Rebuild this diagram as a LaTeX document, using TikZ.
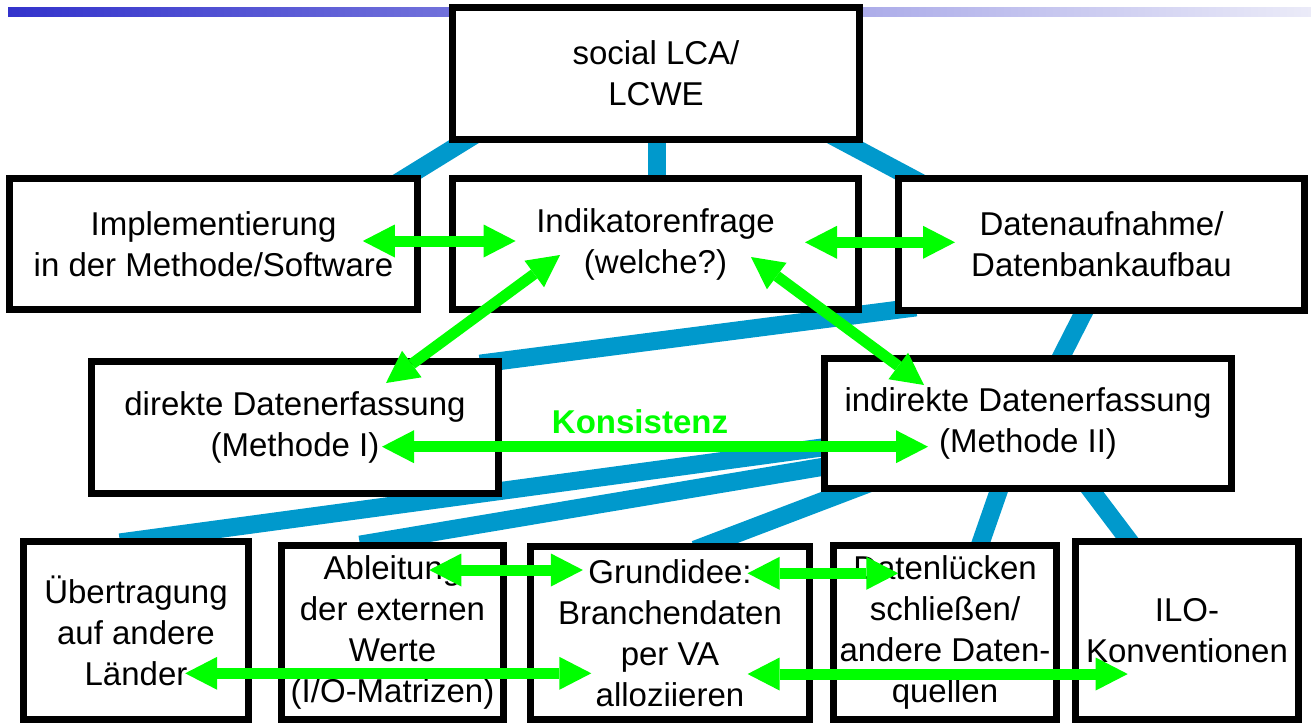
\documentclass[tikz,border=0pt]{standalone}
\usepackage{fontspec}
\setmainfont{Liberation Sans}
\usetikzlibrary{arrows.meta,backgrounds}
\definecolor{linkblue}{RGB}{0,153,204}
\definecolor{arrowgreen}{RGB}{0,255,0}
\definecolor{barleft}{RGB}{51,51,204}
\definecolor{barright}{RGB}{235,235,248}
\begin{document}
\begin{tikzpicture}[x=1pt,y=-1pt,
  box/.style={draw=black, line width=7pt, fill=white, inner sep=0pt, align=center,
    font=\fontsize{33}{41}\selectfont},
  link/.style={draw=linkblue, line width=18pt},
  garrow/.style={draw=arrowgreen, line width=11pt,
    arrows={Triangle[length=32pt,width=33pt,line width=0pt]-Triangle[length=32pt,width=33pt,line width=0pt]}},
  konsis/.style={text=arrowgreen, inner sep=0pt, font=\fontsize{33}{41}\selectfont\bfseries}]
\useasboundingbox (0,0) rectangle (1311,724);

% boxes
\node[box, minimum width=407pt, minimum height=132pt] (T) at (656,73.5) {social LCA/\\LCWE};
\node[box, minimum width=408pt, minimum height=131pt] (A) at (213.5,244) {Implementierung\\in der Methode/Software};
\node[box, minimum width=406pt, minimum height=131pt] (B) at (655.5,244) {Indikatorenfrage\\(welche?)};
\node[box, minimum width=406pt, minimum height=132pt] (C) at (1101.5,244.5) {Datenaufnahme/\\Datenbankaufbau};
\node[box, minimum width=407pt, minimum height=132pt] (D) at (295,427.5) {direkte Datenerfassung\\(Methode I)};
\node[box, minimum width=407pt, minimum height=130pt] (E) at (1028,423.5) {indirekte Datenerfassung\\(Methode II)};
\node[box, minimum width=225pt, minimum height=178pt] (F) at (136,630.5) {Übertragung\\auf andere\\Länder};
\node[box, minimum width=222pt, minimum height=174pt] (G) at (392.5,632.5) {Ableitung\\der externen\\Werte\\(I/O-Matrizen)};
\node[box, minimum width=279pt, minimum height=173pt] (H) at (670,633) {Grundidee:\\Branchendaten\\per VA\\alloziieren};
\node[box, minimum width=223pt, minimum height=174pt] (I) at (945,632.5) {Datenlücken\\schließen/\\andere Daten-\\quellen};
\node[box, minimum width=223pt, minimum height=178pt] (J) at (1187,630.5) {ILO-\\Konventionen};

\node[konsis, anchor=base] (K) at (640,433) {Konsistenz};

% background: bar and blue links
\begin{scope}[on background layer]
  \shade[left color=barleft, right color=barright] (8,7) rectangle (1311,16);
  \draw[link] ([shift={(31,-11.3)}]T.south west) -- ([shift={(-29,11)}]A.north east);
  \draw[link] ([shift={(1,-13)}]T.south) -- ([shift={(1.5,15)}]B.north);
  \draw[link] ([shift={(-33,-8.5)}]T.south east) -- ([shift={(27,8.5)}]C.north west);
  \draw[link] ([shift={(-22,5.6)}]D.north east) -- ([shift={(21,-6.6)}]C.south west);
  \draw[link] ([shift={(-13.5,-10)}]C.south) -- ([shift={(29,10)}]E.north);
  \draw[link] ([shift={(21,21.3)}]E.west) -- ([shift={(-16,4.4)}]F.north);
  \draw[link] ([shift={(21,40.1)}]E.west) -- ([shift={(-32.5,2.6)}]G.north);
  \draw[link] ([shift={(-158,-9)}]E.south) -- ([shift={(25,6.6)}]H.north);
  \draw[link] ([shift={(-26.5,-9)}]E.south) -- ([shift={(33.5,7)}]I.north);
  \draw[link] ([shift={(57.5,-9)}]E.south) -- ([shift={(-51.7,11)}]J.north);
\end{scope}

% green double arrows
\draw[garrow] ([shift={(149.3,-3)}]A.center) -- ([shift={(-139.9,-3)}]B.center);
\draw[garrow] ([shift={(149.5,-1.7)}]B.center) -- ([shift={(-146.5,-2.2)}]C.center);
\draw[garrow] ([shift={(-95.5,11)}]B.center) -- ([shift={(91,-44.5)}]D.center);
\draw[garrow] ([shift={(95.5,13)}]B.center) -- ([shift={(-104,-38.5)}]E.center);
\draw[garrow] ([shift={(87,19.2)}]D.center) -- ([shift={(-100,23.2)}]E.center);
\draw[garrow] ([shift={(36.8,-62.5)}]G.center) -- ([shift={(-87.1,-63)}]H.center);
\draw[garrow] ([shift={(77.6,-59.7)}]H.center) -- ([shift={(-46.7,-59.2)}]I.center);
\draw[garrow] ([shift={(49.2,42.8)}]F.center) -- ([shift={(-78.7,40.3)}]H.center);
\draw[garrow] ([shift={(77.6,41)}]H.center) -- ([shift={(-59.3,43.5)}]J.center);
\end{tikzpicture}
\end{document}
